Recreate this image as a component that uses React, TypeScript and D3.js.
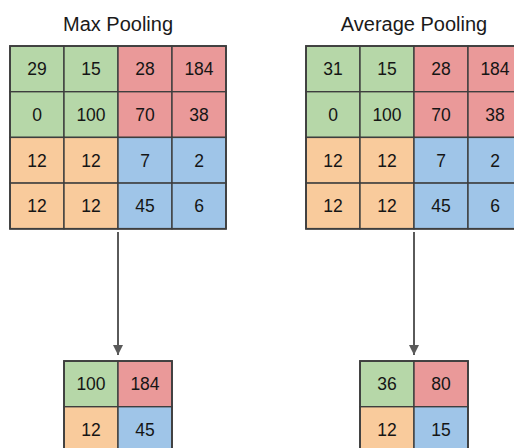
import * as d3 from "d3";

// input matrices (row by row)
const maxInput: number[][] = [
  [29, 15, 28, 184],
  [0, 100, 70, 38],
  [12, 12, 7, 2],
  [12, 12, 45, 6],
];
const avgInput: number[][] = [
  [31, 15, 28, 184],
  [0, 100, 70, 38],
  [12, 12, 7, 2],
  [12, 12, 45, 6],
];
// pooled 2x2 results
const maxOutput: number[][] = [
  [100, 184],
  [12, 45],
];
const avgOutput: number[][] = [
  [36, 80],
  [12, 15],
];
const titles = ["Max Pooling", "Average Pooling"];
// quadrant colours: top-left, top-right, bottom-left, bottom-right
const quadColors = ["#b6d7a8", "#ea9999", "#f9cb9c", "#9fc5e8"];

const W = 514;
const H = 448;
const CELL_W = 54;
const CELL_H = 45.7;
const STROKE = "#3e3e3e";

const quad = (r: number, c: number, n: number) =>
  quadColors[(r < n / 2 ? 0 : 2) + (c < n / 2 ? 0 : 1)];

function Grid({ data, x0, y0 }: { data: number[][]; x0: number; y0: number }) {
  const n = data.length;
  const x = d3.scaleBand<number>().domain(d3.range(n)).range([x0, x0 + CELL_W * n]);
  const y = d3.scaleBand<number>().domain(d3.range(n)).range([y0, y0 + CELL_H * n]);
  return (
    <g>
      {data.map((row, r) =>
        row.map((v, c) => (
          <g key={`${r}-${c}`}>
            <rect
              x={x(c)}
              y={y(r)}
              width={x.bandwidth()}
              height={y.bandwidth()}
              fill={quad(r, c, n)}
              stroke={STROKE}
              strokeWidth={1.4}
            />
            <text
              x={(x(c) ?? 0) + x.bandwidth() / 2}
              y={(y(r) ?? 0) + y.bandwidth() / 2}
              dy="0.36em"
              textAnchor="middle"
              fontSize={17.5}
              fill="#151515"
            >
              {v}
            </text>
          </g>
        ))
      )}
      <rect
        x={x0}
        y={y0}
        width={CELL_W * n}
        height={CELL_H * n}
        fill="none"
        stroke={STROKE}
        strokeWidth={1.8}
      />
    </g>
  );
}

export default function App() {
  const panels = [
    { title: titles[0], input: maxInput, output: maxOutput, x0: 10 },
    { title: titles[1], input: avgInput, output: avgOutput, x0: 306 },
  ];
  const gridTop = 46;
  const outTop = 361;
  return (
    <svg
      width={W}
      height={H}
      style={{ position: "absolute", left: 0, top: 0, background: "#fff" }}
      fontFamily="'Liberation Sans', Arial, sans-serif"
    >
      <defs>
        <marker id="arrow" viewBox="0 0 10 10" refX="10" refY="5" markerWidth="10" markerHeight="13" markerUnits="userSpaceOnUse" orient="auto">
          <path d="M0,0 L10,5 L0,10 Z" fill="#5a5a5a" />
        </marker>
      </defs>
      {panels.map((p) => {
        const cx = p.x0 + CELL_W * 2;
        return (
          <g key={p.title}>
            <text x={cx} y={31} textAnchor="middle" fontSize={20} fill="#1a1a1a">
              {p.title}
            </text>
            <Grid data={p.input} x0={p.x0} y0={gridTop} />
            <line
              x1={cx}
              y1={232}
              x2={cx}
              y2={355}
              stroke="#5a5a5a"
              strokeWidth={2}
              markerEnd="url(#arrow)"
            />
            <Grid data={p.output} x0={p.x0 + CELL_W} y0={outTop} />
          </g>
        );
      })}
    </svg>
  );
}
